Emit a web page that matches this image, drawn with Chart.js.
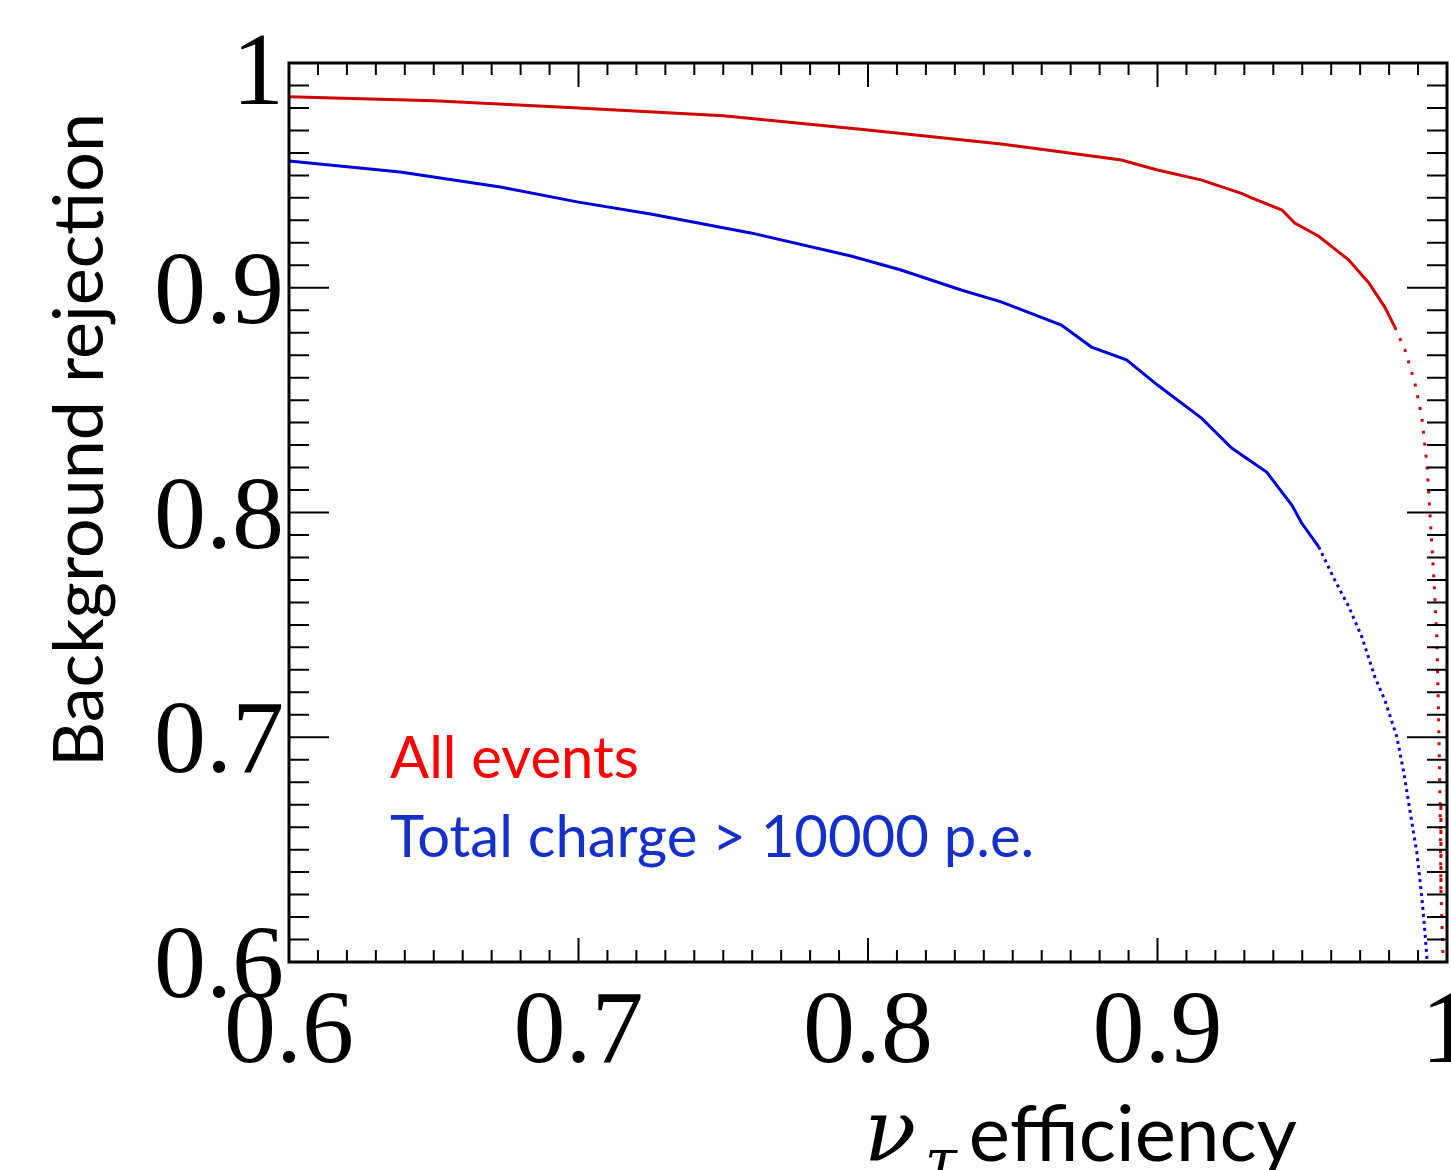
<!DOCTYPE html>
<html lang="en">
<head>
    <meta charset="UTF-8">
    <title>Background rejection vs efficiency</title>
    <script src="https://cdn.jsdelivr.net/npm/chart.js"></script>
    <style>
        html, body { margin: 0; padding: 0; background: #fff; }
        #grafico { display: block; }
    </style>
</head>
<body>
    <canvas id="grafico" width="1451" height="1170"></canvas>

<script>
    // ----- dados -----
    var allEventsX = [0.600, 0.650, 0.700, 0.750, 0.800, 0.846, 0.867, 0.8875, 0.900, 0.915,
        0.929, 0.9325, 0.943, 0.9474, 0.9557, 0.9661, 0.9730, 0.9785, 0.9820, 0.9855,
        0.9889, 0.9913, 0.9931, 0.9941, 0.9955, 0.9965, 0.9972, 0.9976, 0.9979, 0.9986];
    var allEventsY = [0.985, 0.9832, 0.980, 0.9765, 0.9702, 0.9640, 0.9604, 0.9568, 0.9524, 0.948,
        0.942, 0.940, 0.9346, 0.9288, 0.9229, 0.9123, 0.9021, 0.8914, 0.8825, 0.8723,
        0.8576, 0.8425, 0.8211, 0.7998, 0.7700, 0.7442, 0.7019, 0.6712, 0.6320, 0.6031];

    var chargeCutX = [0.600, 0.6384, 0.673, 0.700, 0.7249, 0.7595, 0.7941, 0.8114, 0.8322, 0.846,
        0.8668, 0.8772, 0.8893, 0.900, 0.9152, 0.9256, 0.9377, 0.9464, 0.9498, 0.9557,
        0.9612, 0.9661, 0.9706, 0.9751, 0.9785, 0.9827, 0.9851, 0.9879, 0.9896, 0.9913,
        0.9924, 0.9931];
    var chargeCutY = [0.9564, 0.9515, 0.9448, 0.9381, 0.9328, 0.9244, 0.9141, 0.9079, 0.899, 0.8937,
        0.8834, 0.8736, 0.8679, 0.8567, 0.8420, 0.8287, 0.818, 0.8033, 0.7953, 0.7847,
        0.770, 0.758, 0.7446, 0.7268, 0.7166, 0.7001, 0.6841, 0.6618, 0.6485, 0.6289,
        0.6129, 0.6009];

    var xTickValues = [0.6, 0.7, 0.8, 0.9, 1.0];
    var xTickLabels = ['0.6', '0.7', '0.8', '0.9', '1'];
    var yTickValues = [0.6, 0.7, 0.8, 0.9, 1.0];
    var yTickLabels = ['0.6', '0.7', '0.8', '0.9', '1'];

    var legendLabels = ['All events', 'Total charge > 10000 p.e.'];

    function juntarPontos(xs, ys) {
        var pontos = [];
        for (var i = 0; i < xs.length; i++) {
            pontos.push({ x: xs[i], y: ys[i] });
        }
        return pontos;
    }

    // moldura, ticks (para dentro, estilo ROOT), rótulos e títulos
    var molduraPlugin = {
        id: 'moldura',
        afterDatasetsDraw: function (chart) {
            var ctx = chart.ctx;
            var area = chart.chartArea;
            var sx = chart.scales.x;
            var sy = chart.scales.y;
            ctx.save();

            // ticks do eixo x (embaixo e em cima)
            ctx.strokeStyle = '#000';
            ctx.lineWidth = 2;
            for (var k = 61; k < 100; k++) {
                var px = sx.getPixelForValue(k / 100);
                var len = (k % 10 === 0) ? 24 : 12;
                ctx.beginPath();
                ctx.moveTo(px, area.bottom);
                ctx.lineTo(px, area.bottom - len);
                ctx.moveTo(px, area.top);
                ctx.lineTo(px, area.top + len);
                ctx.stroke();
            }
            // ticks do eixo y (esquerda e direita)
            for (var j = 61; j < 100; j++) {
                var py = sy.getPixelForValue(j / 100);
                var len2 = (j % 10 === 0) ? 40 : 20;
                ctx.beginPath();
                ctx.moveTo(area.left, py);
                ctx.lineTo(area.left + len2, py);
                ctx.moveTo(area.right, py);
                ctx.lineTo(area.right - len2, py);
                ctx.stroke();
            }

            // moldura
            ctx.lineWidth = 3;
            ctx.strokeRect(area.left, area.top, area.right - area.left, area.bottom - area.top);

            // rótulos numéricos
            ctx.fillStyle = '#000';
            ctx.font = '104px "Liberation Serif", "DejaVu Serif", serif';
            ctx.textAlign = 'right';
            ctx.textBaseline = 'alphabetic';
            for (var a = 0; a < yTickValues.length; a++) {
                var ajuste = (a === yTickValues.length - 1) ? 6 : 0;
                ctx.fillText(yTickLabels[a], area.left - 5, sy.getPixelForValue(yTickValues[a]) + 35 + ajuste);
            }
            ctx.textAlign = 'center';
            for (var b = 0; b < xTickValues.length; b++) {
                ctx.fillText(xTickLabels[b], sx.getPixelForValue(xTickValues[b]), 1062);
            }

            // título do eixo x
            ctx.textAlign = 'right';
            ctx.font = '78px Lato, "Noto Sans", sans-serif';
            ctx.fillText('efficiency', 1297, 1161);
            ctx.textAlign = 'left';
            ctx.font = 'italic 86px "DejaVu Serif", "Liberation Serif", serif';
            ctx.fillText('\u03bd', 864, 1160);
            ctx.font = 'italic 58px "DejaVu Serif", "Liberation Serif", serif';
            ctx.fillText('\u03c4', 925, 1180);

            // título do eixo y
            ctx.save();
            ctx.translate(103, 440);
            ctx.rotate(-Math.PI / 2);
            ctx.textAlign = 'center';
            ctx.font = '70px Lato, "Noto Sans", sans-serif';
            ctx.fillText('Background rejection', 0, 0);
            ctx.restore();

            // legenda em texto colorido
            ctx.textAlign = 'left';
            ctx.font = '58px Lato, "Noto Sans", sans-serif';
            ctx.fillStyle = '#ff0000';
            ctx.fillText(legendLabels[0], 390, 778);
            ctx.fillStyle = '#1430c8';
            ctx.fillText(legendLabels[1], 390, 857);

            ctx.restore();
        }
    };

    var config = {
        type: 'scatter',
        data: {
            datasets: [{
                label: legendLabels[0],
                data: juntarPontos(allEventsX, allEventsY),
                showLine: true,
                borderColor: '#d20000',
                borderWidth: 3,
                pointRadius: 0,
                tension: 0,
                segment: {
                    borderDash: function (c) { return c.p1.parsed.y < 0.875 ? [3, 9] : undefined; }
                }
            },
            {
                label: legendLabels[1],
                data: juntarPontos(chargeCutX, chargeCutY),
                showLine: true,
                borderColor: '#0000d8',
                borderWidth: 3,
                pointRadius: 0,
                tension: 0,
                segment: {
                    borderDash: function (c) { return c.p1.parsed.y < 0.78 ? [3, 4] : undefined; }
                }
            }]
        },
        options: {
            responsive: false,
            devicePixelRatio: 1,
            animation: false,
            layout: {
                padding: { left: 289, top: 63, right: 4, bottom: 208 }
            },
            plugins: {
                legend: { display: false },
                tooltip: { enabled: false },
                title: { display: false }
            },
            scales: {
                x: { type: 'linear', min: 0.6, max: 1.0, display: false },
                y: { type: 'linear', min: 0.6, max: 1.0, display: false }
            }
        },
        plugins: [molduraPlugin]
    };

    var meuGrafico = new Chart(document.getElementById('grafico'), config);
</script>
</body>
</html>
